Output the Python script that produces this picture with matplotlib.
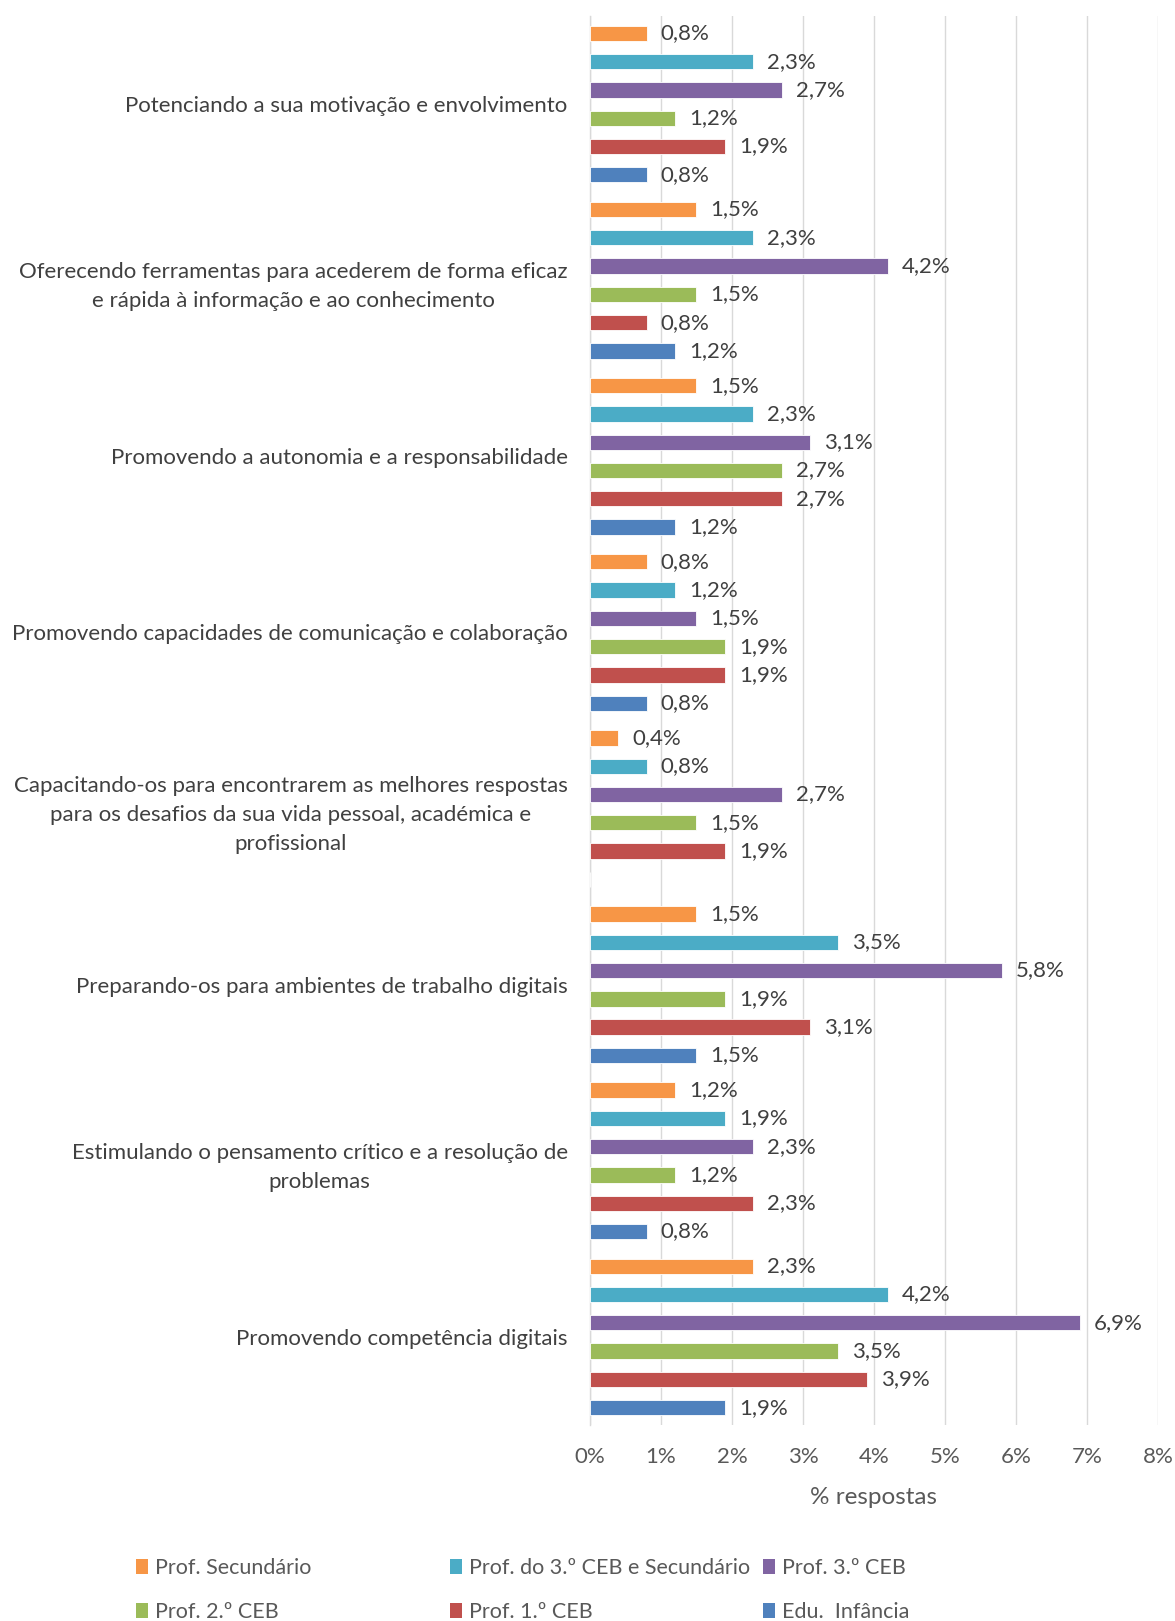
import numpy as np
import matplotlib
matplotlib.use("Agg")
import matplotlib.pyplot as plt
from matplotlib.patches import Patch

plt.rcParams["font.family"] = ["Lato", "DejaVu Sans"]

# categories, bottom to top
categories = [
    "Promovendo competência digitais",
    "Estimulando o pensamento crítico e a resolução de\nproblemas",
    "Preparando-os para ambientes de trabalho digitais",
    "Capacitando-os para encontrarem as melhores respostas\npara os desafios da sua vida pessoal, académica e\nprofissional",
    "Promovendo capacidades de comunicação e colaboração",
    "Promovendo a autonomia e a responsabilidade",
    "Oferecendo ferramentas para acederem de forma eficaz\ne rápida à informação e ao conhecimento",
    "Potenciando a sua motivação e envolvimento",
]

series_names = [
    "Edu.  Infância",
    "Prof. 1.º CEB",
    "Prof. 2.º CEB",
    "Prof. 3.º CEB",
    "Prof. do 3.º CEB e Secundário",
    "Prof. Secundário",
]
colors = ["#4F81BD", "#C0504D", "#9BBB59", "#8064A2", "#4BACC6", "#F79646"]

# % respostas per category (same order as categories)
edu_infancia = [1.9, 0.8, 1.5, np.nan, 0.8, 1.2, 1.2, 0.8]
prof_1ceb = [3.9, 2.3, 3.1, 1.9, 1.9, 2.7, 0.8, 1.9]
prof_2ceb = [3.5, 1.2, 1.9, 1.5, 1.9, 2.7, 1.5, 1.2]
prof_3ceb = [6.9, 2.3, 5.8, 2.7, 1.5, 3.1, 4.2, 2.7]
prof_3ceb_sec = [4.2, 1.9, 3.5, 0.8, 1.2, 2.3, 2.3, 2.3]
prof_sec = [2.3, 1.2, 1.5, 0.4, 0.8, 1.5, 1.5, 0.8]
series = [edu_infancia, prof_1ceb, prof_2ceb, prof_3ceb, prof_3ceb_sec, prof_sec]

fig = plt.figure(figsize=(11.75, 16.21), dpi=100)
ax = fig.add_axes([0.5021, 0.1209, 0.4834, 0.8692])

y = np.arange(len(categories))
pitch = 0.1606
bar_h = 0.087
handles = {}
for i, (name, vals, col) in enumerate(zip(series_names, series, colors)):
    vals = np.array(vals, dtype=float)
    pos = y + (i - 2.5) * pitch
    ax.barh(pos, np.nan_to_num(vals), height=bar_h, color=col,
            edgecolor="white", linewidth=0.6, zorder=3)
    handles[name] = Patch(facecolor=col, edgecolor="none")
    for p, v in zip(pos, vals):
        if np.isnan(v):
            continue
        ax.annotate(f"{v:.1f}%".replace(".", ","), xy=(v, p),
                    xytext=(10, 0), textcoords="offset points",
                    va="center", ha="left", fontsize=16, color="#404040")

ax.set_xlim(0, 8)
ax.set_ylim(-0.5, len(categories) - 0.5)
ax.set_xticks(range(9))
ax.set_xticklabels([f"{t}%" for t in range(9)], fontsize=16, color="#595959")
ax.set_yticks(y)
ax.set_yticklabels(categories, fontsize=16, color="#404040",
                   multialignment="center", linespacing=1.55)
ax.tick_params(axis="both", length=0)
ax.tick_params(axis="x", pad=16)
ax.tick_params(axis="y", pad=16)
ax.grid(axis="x", color="#D9D9D9", linewidth=1.0, zorder=0)
for s in ["top", "right", "bottom"]:
    ax.spines[s].set_visible(False)
ax.spines["left"].set_color("#D9D9D9")
ax.spines["left"].set_linewidth(1.0)
ax.set_xlabel("% respostas", fontsize=17.5, color="#595959", labelpad=14)

# legend, three columns of two entries
legend_cols = [
    ["Prof. Secundário", "Prof. 2.º CEB"],
    ["Prof. do 3.º CEB e Secundário", "Prof. 1.º CEB"],
    ["Prof. 3.º CEB", "Edu.  Infância"],
]
col_x = [136 / 1175, 450 / 1175, 763 / 1175]
for cx, names in zip(col_x, legend_cols):
    fig.legend(handles=[handles[n] for n in names], labels=names,
               loc="upper left", bbox_to_anchor=(cx, 1 - 1558 / 1621),
               frameon=False, fontsize=15.5, labelcolor="#595959",
               handlelength=0.55, handleheight=0.7, handletextpad=0.35,
               labelspacing=1.1, borderpad=0, borderaxespad=0)

fig.savefig("out.png", dpi=100)
